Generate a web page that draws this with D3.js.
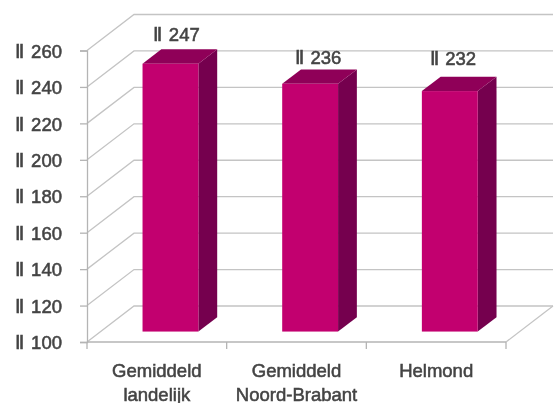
<!DOCTYPE html>
<html>
<head>
<meta charset="utf-8">
<script src="https://d3js.org/d3.v7.min.js"></script>
<style>
html,body{margin:0;padding:0;background:#fff;}
svg{display:block;}
text{font-family:"Liberation Sans",Arial,sans-serif;fill:#444;stroke:#444;stroke-width:0.55px;filter:url(#soft);}
</style>
</head>
<body>
<script>
var categories = [["Gemiddeld","landelijk"],["Gemiddeld","Noord-Brabant"],["Helmond"]];
var values = [247, 236, 232];
var tick_values = [100,120,140,160,180,200,220,240,260];
var value_prefix = "\u2161\u00a0\u200a";

var width = 559, height = 403;
var font_size = 18.5;
var grid_color = "#c4c4c4", axis_color = "#b4b4b4";
var front_color = "#c2006f", top_color = "#8f0058", side_color = "#75004e";

// depth of the 3d box, bars sit from 30% to 70% of it
var depth_x = 47, depth_y = -36;
var bar_front = 0.29, bar_back = 0.69;

// value labels were placed by hand in the original, nudge from the box top
var label_nudge = [[6, -8], [8, -5], [3, -12]];

var x = d3.scaleBand().domain(d3.range(categories.length)).range([87, 506]).paddingInner(0).paddingOuter(0);
var y = d3.scaleLinear().domain([100, 260]).range([342, 50.5]);

var svg = d3.select("body").append("svg").attr("width", width).attr("height", height);

svg.append("filter")
.attr("id", "soft")
.append("feGaussianBlur")
.attr("stdDeviation", 0.35);

function drawGrid(){
	var grid = svg.append("g").attr("fill", "none").attr("stroke-width", 1.3);

	// side wall lines + back wall lines
	grid.selectAll("path.side")
	.data(tick_values)
	.enter()
	.append("path")
	.attr("stroke", grid_color)
	.attr("d", function(d){
		return "M" + x.range()[0] + "," + y(d) + "L" + (x.range()[0] + depth_x) + "," + (y(d) + depth_y) + "L" + (x.range()[1] + depth_x) + "," + (y(d) + depth_y);
	});

	// floor right edge
	grid.append("path")
	.attr("stroke", grid_color)
	.attr("d", "M" + x.range()[1] + "," + y(100) + "L" + (x.range()[1] + depth_x) + "," + (y(100) + depth_y));
}

function drawAxes(){
	var yAxis = svg.append("g")
	.attr("transform", "translate(87,0)")
	.call(d3.axisLeft(y).tickValues(tick_values).tickSize(7).tickPadding(6).tickFormat(function(d){ return value_prefix + d; }));
	yAxis.attr("font-family", null);
	yAxis.select(".domain").attr("stroke", axis_color).attr("stroke-width", 1.3);
	yAxis.selectAll("line").attr("stroke", axis_color).attr("stroke-width", 1.3);
	yAxis.selectAll("text").attr("font-size", font_size).attr("dy", "0.36em").attr("x", -25);

	var xAxis = svg.append("g").attr("transform", "translate(0," + y(100) + ")");
	xAxis.append("line").attr("x1", x.range()[0]).attr("x2", x.range()[1]).attr("stroke", axis_color).attr("stroke-width", 1.3);
	xAxis.selectAll("line.tick")
	.data(d3.range(categories.length + 1))
	.enter()
	.append("line")
	.attr("x1", function(d){ return x.range()[0] + d * x.bandwidth(); })
	.attr("x2", function(d){ return x.range()[0] + d * x.bandwidth(); })
	.attr("y1", 0)
	.attr("y2", 7)
	.attr("stroke", axis_color)
	.attr("stroke-width", 1.3);

	xAxis.selectAll("text.cat")
	.data(categories)
	.enter()
	.append("text")
	.attr("text-anchor", "middle")
	.attr("font-size", font_size)
	.each(function(d, i){
		var t = d3.select(this);
		d.forEach(function(line, k){
			t.append("tspan")
			.attr("x", x(i) + x.bandwidth() / 2)
			.attr("y", 34.5 + k * 24)
			.text(line);
		});
	});
}

function drawBars(){
	var bar_w = x.bandwidth() * 0.4;
	var bars = svg.selectAll("g.bar")
	.data(values)
	.enter()
	.append("g")
	.attr("class", "bar");

	function left(i){ return x(i) + (x.bandwidth() - bar_w) / 2 + depth_x * bar_front; }
	function base(){ return y(100) + depth_y * bar_front; }
	function top(d){ return y(d) + depth_y * bar_front; }
	var dx = depth_x * (bar_back - bar_front), dy = depth_y * (bar_back - bar_front);

	// side face
	bars.append("path")
	.attr("fill", side_color)
	.attr("d", function(d, i){
		var r = left(i) + bar_w;
		return "M" + r + "," + base() + "L" + r + "," + top(d) + "L" + (r + dx) + "," + (top(d) + dy) + "L" + (r + dx) + "," + (base() + dy) + "Z";
	});
	// top face
	bars.append("path")
	.attr("fill", top_color)
	.attr("d", function(d, i){
		var l = left(i);
		return "M" + l + "," + top(d) + "L" + (l + bar_w) + "," + top(d) + "L" + (l + bar_w + dx) + "," + (top(d) + dy) + "L" + (l + dx) + "," + (top(d) + dy) + "Z";
	});
	// front face
	bars.append("rect")
	.attr("fill", front_color)
	.attr("x", function(d, i){ return left(i); })
	.attr("y", function(d){ return top(d); })
	.attr("width", bar_w)
	.attr("height", function(d){ return base() - top(d); });

	// value labels above the box
	bars.append("text")
	.attr("x", function(d, i){ return left(i) + bar_w / 2 + label_nudge[i][0]; })
	.attr("y", function(d, i){ return top(d) + dy + label_nudge[i][1]; })
	.attr("text-anchor", "middle")
	.attr("font-size", font_size)
	.text(function(d){ return value_prefix + d; });
}

drawGrid();
drawAxes();
drawBars();
</script>
</body>
</html>
